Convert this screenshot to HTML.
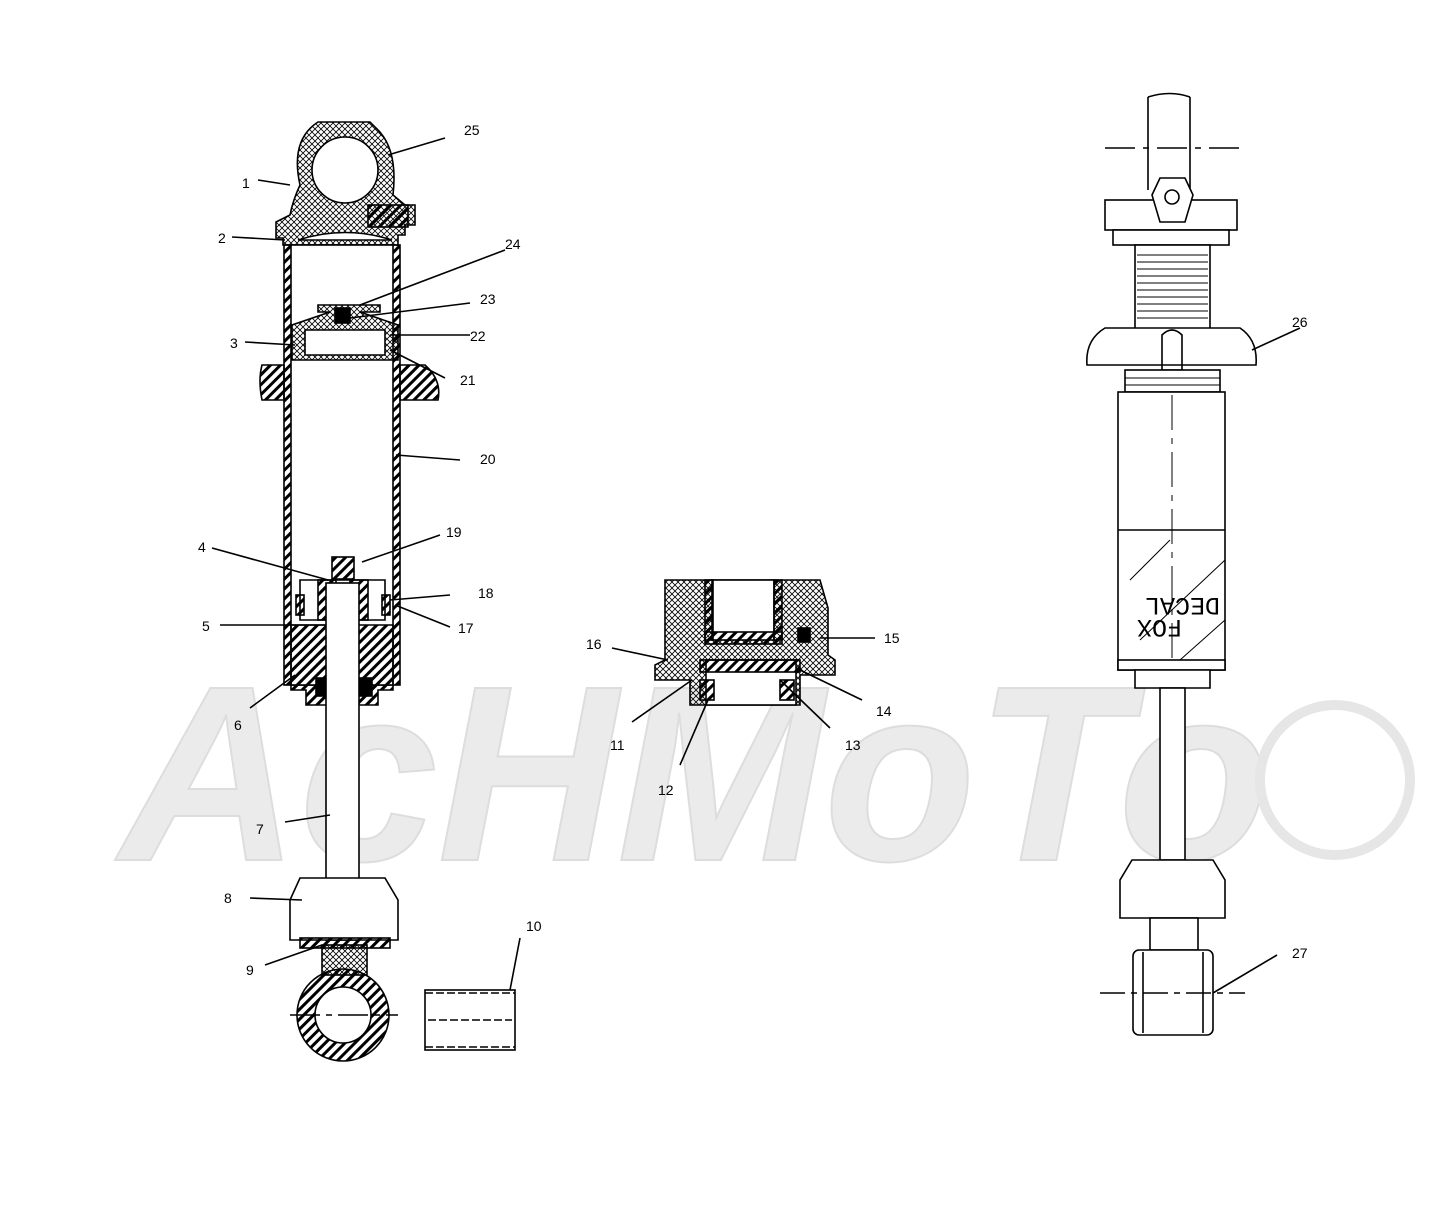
<!DOCTYPE html>
<html><head><meta charset="utf-8"><style>
html,body{margin:0;padding:0;background:#fff}
svg{display:block}
text{font-family:"Liberation Sans",sans-serif;font-size:14px;fill:#000}
</style></head><body>
<svg width="1434" height="1207" viewBox="0 0 1434 1207" xmlns="http://www.w3.org/2000/svg">
<defs>
<pattern id="x" width="6" height="6" patternUnits="userSpaceOnUse"><path d="M0 0L6 6M6 0L0 6" stroke="#000" stroke-width="0.8"/></pattern>
<pattern id="h" width="7" height="7" patternUnits="userSpaceOnUse" patternTransform="rotate(45)"><rect width="3" height="7" fill="#000"/></pattern>
</defs>
<!-- watermark -->
<g>
<text x="120" y="860" style="font-size:250px;font-weight:bold;font-style:italic;fill:#ebebeb;stroke:#dddddd;stroke-width:2" textLength="1150" lengthAdjust="spacingAndGlyphs">AcHMoTo</text>
<circle cx="1335" cy="780" r="75" fill="none" stroke="#e6e6e6" stroke-width="10"/>
</g>
<g fill="none" stroke="#000" stroke-width="1.6">
<!-- LEFT SHOCK top eyelet -->
<path d="M318 122H370L378 130Q398 150 393 195L405 205H415V225H405V235H398V245H283V238H276V222L290 215Q293 200 300 185Q290 140 318 122Z" fill="url(#x)"/>
<circle cx="345" cy="170" r="33" fill="#fff"/>
<rect x="368" y="205" width="40" height="22" fill="url(#h)"/>
<path d="M298 240Q345 225 392 240Z" fill="#fff"/>
<!-- tube -->
<rect x="284" y="245" width="116" height="440" fill="url(#h)"/>
<rect x="291" y="245" width="102" height="440" fill="#fff"/>
<!-- floating piston -->
<path d="M318 305H380V312H360L398 325V360H292V325L330 312H318Z" fill="url(#x)"/>
<path d="M305 330H385V355H305Z" fill="#fff"/>
<rect x="335" y="308" width="15" height="15" fill="#000"/>
<!-- spring collar -->
<path d="M284 365H262Q258 380 262 400H284Z" fill="url(#h)"/>
<path d="M400 365H425Q442 380 438 400H400Z" fill="url(#h)"/>
<!-- main piston -->
<rect x="332" y="557" width="22" height="22" fill="url(#h)"/>
<path d="M300 580H385V620H300Z" fill="#fff"/>
<rect x="318" y="580" width="18" height="40" fill="url(#h)"/>
<rect x="350" y="580" width="18" height="40" fill="url(#h)"/>
<rect x="296" y="595" width="8" height="20" fill="url(#h)"/>
<rect x="382" y="595" width="8" height="20" fill="url(#h)"/>
<!-- seal head -->
<path d="M291 625H393V690H378V705H306V690H291Z" fill="url(#h)"/>
<rect x="316" y="678" width="12" height="18" fill="#000"/>
<rect x="360" y="678" width="12" height="18" fill="#000"/>
<!-- rod -->
<rect x="326" y="583" width="33" height="357" fill="#fff"/>
<!-- bumper -->
<path d="M300 878H385L398 900V940H290V900Z" fill="#fff"/>
<rect x="300" y="938" width="90" height="10" fill="url(#h)"/>
<rect x="322" y="945" width="45" height="30" fill="url(#x)"/>
<!-- bottom eye -->
<circle cx="343" cy="1015" r="46" fill="url(#h)"/>
<circle cx="343" cy="1015" r="28" fill="#fff"/>
<path d="M290 1015H398" stroke-dasharray="30 6 6 6"/>
<!-- bushing 10 -->
<rect x="425" y="990" width="90" height="60" fill="#fff"/>
<path d="M425 993H515M425 1047H515M428 1020H512" stroke-dasharray="8 3"/>
<!-- MIDDLE part -->
<path d="M665 580H820L828 608V655L835 660V675H800V705H690V680H655V665L665 660V608Z" fill="url(#x)"/>
<rect x="712" y="580" width="62" height="60" fill="#fff"/>
<rect x="705" y="580" width="8" height="60" fill="url(#h)"/>
<rect x="774" y="580" width="8" height="60" fill="url(#h)"/>
<rect x="705" y="632" width="77" height="12" fill="url(#h)"/>
<rect x="706" y="660" width="90" height="45" fill="#fff"/>
<rect x="700" y="660" width="100" height="12" fill="url(#h)"/>
<rect x="700" y="680" width="14" height="20" fill="url(#h)"/>
<rect x="780" y="680" width="14" height="20" fill="url(#h)"/>
<rect x="798" y="628" width="12" height="14" fill="#000"/>
<!-- RIGHT SHOCK -->
<path d="M1148 97V190M1190 97V190"/>
<path d="M1148 97Q1170 90 1190 97"/>
<path d="M1105 148H1240" stroke-dasharray="30 8 6 8"/>
<rect x="1105" y="200" width="132" height="30" fill="#fff"/>
<path d="M1160 178H1185L1193 195L1185 222H1160L1152 195Z" fill="#fff"/>
<circle cx="1172" cy="197" r="7"/>
<rect x="1113" y="230" width="116" height="15" fill="#fff"/>
<rect x="1135" y="245" width="75" height="85" fill="#fff"/>
<path d="M1137 255H1208M1137 262H1208M1137 269H1208M1137 276H1208M1137 283H1208M1137 290H1208M1137 297H1208M1137 304H1208M1137 311H1208M1137 318H1208" stroke-width="1"/>
<path d="M1105 328H1240Q1258 340 1256 365H1087Q1085 340 1105 328Z" fill="#fff"/>
<path d="M1162 335Q1172 325 1182 335V370H1162Z"/>
<rect x="1125" y="370" width="95" height="22" fill="#fff"/>
<path d="M1125 378H1220M1125 385H1220" stroke-width="1"/>
<rect x="1118" y="392" width="107" height="278" fill="#fff"/>
<path d="M1118 530H1225"/>
<path d="M1130 580L1170 540M1140 640L1225 560M1180 660L1225 620" stroke-width="1"/>
<path d="M1172 395V670" stroke-dasharray="35 8 6 8" stroke-width="1"/>
<rect x="1118" y="660" width="107" height="10" fill="#fff"/>
<path d="M1135 670H1210V688H1135Z" fill="#fff"/>
<rect x="1160" y="688" width="25" height="172" fill="#fff"/>
<path d="M1132 860H1213L1225 880V918H1120V880Z" fill="#fff"/>
<rect x="1150" y="918" width="48" height="32" fill="#fff"/>
<rect x="1133" y="950" width="80" height="85" rx="6" fill="#fff"/>
<path d="M1143 952V1033M1203 952V1033"/>
<path d="M1100 993H1245" stroke-dasharray="25 6 6 6"/>
<!-- leaders -->
<path d="M388 155L445 138M290 185L258 180M285 240L232 237M360 305L505 250M350 318L470 303M390 335L470 335M295 345L245 342M390 350L445 378M396 455L460 460M362 562L440 535M328 580L212 548M390 600L450 595M395 605L450 627M325 625L220 625M295 675L250 708M330 815L285 822M302 900L250 898M322 945L265 965M510 990L520 938"/>
<path d="M668 660L612 648M692 680L632 722M708 700L680 765M780 680L830 728M800 670L862 700M820 638L875 638M1252 350L1300 328M1213 993L1277 955"/>
</g>
<g>
<text x="464" y="135">25</text><text x="242" y="188">1</text><text x="218" y="243">2</text>
<text x="505" y="249">24</text><text x="480" y="304">23</text><text x="470" y="341">22</text>
<text x="230" y="348">3</text><text x="460" y="385">21</text><text x="480" y="464">20</text>
<text x="446" y="537">19</text><text x="198" y="552">4</text><text x="478" y="598">18</text>
<text x="458" y="633">17</text><text x="202" y="631">5</text><text x="234" y="730">6</text>
<text x="256" y="834">7</text><text x="224" y="903">8</text><text x="246" y="975">9</text>
<text x="526" y="931">10</text><text x="586" y="649">16</text><text x="884" y="643">15</text>
<text x="876" y="716">14</text><text x="845" y="750">13</text><text x="610" y="750">11</text>
<text x="658" y="795">12</text><text x="1292" y="327">26</text><text x="1292" y="958">27</text>
<text transform="translate(1220,598) rotate(180)" style="font-size:25px;font-family:'Liberation Mono',monospace">DECAL</text>
<text transform="translate(1182,620) rotate(180)" style="font-size:25px;font-family:'Liberation Mono',monospace">FOX</text>
</g>
</svg>
</body></html>
